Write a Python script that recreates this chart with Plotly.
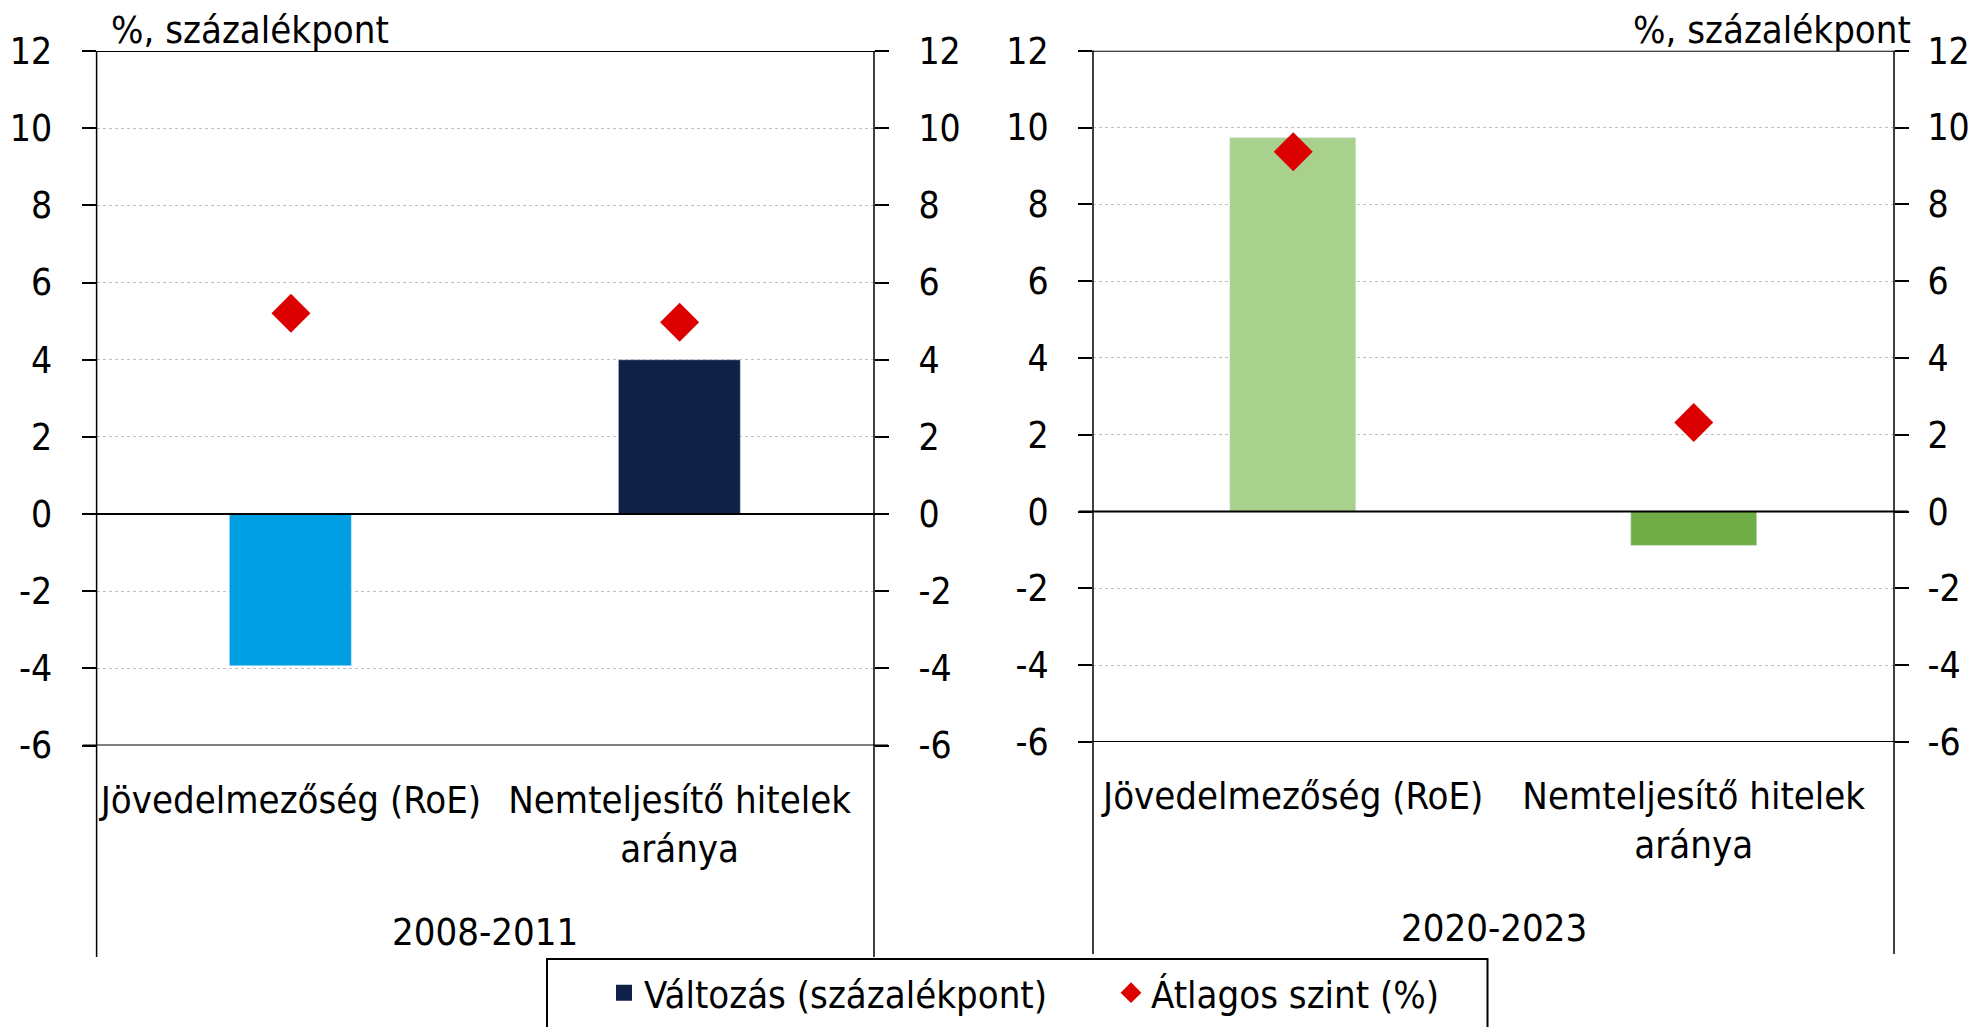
import plotly.graph_objects as go

W, H = 1977, 1027

# ---- data ----
categories = ["Jövedelmezőség (RoE)", "Nemteljesítő hitelek<br>aránya"]
periods = ["2008-2011", "2020-2023"]
change_2008 = [-3.93, 4.0]
level_2008 = [5.2, 4.97]
change_2020 = [9.73, -0.89]
level_2020 = [9.37, 2.32]
bar_colors_2008 = ["#009FE3", "#0F2147"]
bar_colors_2020 = ["#A9D18E", "#70AD47"]
y_ticks = [-6, -4, -2, 0, 2, 4, 6, 8, 10, 12]
y_ticktext = ["-6", "-4", "-2", "0", "2", "4", "6", "8", "10", "12"]
unit_label = "%, százalékpont"
legend_change = "Változás (százalékpont)"
legend_level = "Átlagos szint (%)"

FONT = "Liberation Sans Narrow, Arial Narrow, DejaVu Sans Condensed, sans-serif"
FS = 38
TFS = 37
RED = "#DD0000"
NAVY = "#0F2147"

# pixel geometry
L1, R1 = 96.6, 874.0
L2, R2 = 1093.0, 1894.0
T1, B1 = 51.0, 745.5
T2, B2 = 50.7, 742.0

def px(x):
    return x / W

def py(y):
    return 1 - y / H

fig = go.Figure()

fig.add_trace(go.Bar(x=categories, y=change_2008, marker_color=bar_colors_2008,
                     width=0.314, xaxis="x", yaxis="y", showlegend=False))
fig.add_trace(go.Scatter(x=categories, y=level_2008, mode="markers",
                         marker=dict(symbol="diamond", size=30, color=RED),
                         xaxis="x", yaxis="y2", showlegend=False))
fig.add_trace(go.Bar(x=categories, y=change_2020, marker_color=bar_colors_2020,
                     width=0.314, xaxis="x2", yaxis="y3", showlegend=False))
fig.add_trace(go.Scatter(x=categories, y=level_2020, mode="markers",
                         marker=dict(symbol="diamond", size=30, color=RED),
                         xaxis="x2", yaxis="y4", showlegend=False))
# legend entries
fig.add_trace(go.Scatter(x=[None], y=[None], mode="markers", name=legend_change,
                         marker=dict(symbol="square", size=23, color=NAVY),
                         xaxis="x", yaxis="y", showlegend=True))
fig.add_trace(go.Scatter(x=[None], y=[None], mode="markers", name=legend_level,
                         marker=dict(symbol="diamond", size=18, color=RED),
                         xaxis="x", yaxis="y", showlegend=True))

tickfont = dict(family=FONT, size=TFS, color="black")

def yax(domain, anchor, side, overlaying=None, grid=True, standoff=22):
    d = dict(domain=domain, anchor=anchor, side=side, range=[-6, 12],
             tickvals=y_ticks, ticktext=y_ticktext, ticks="outside", ticklen=14,
             tickwidth=2, tickcolor="black", tickfont=tickfont, showline=False,
             showticklabels=True,
             zeroline=False, showgrid=grid, gridcolor="#BFBFBF", griddash="dot",
             gridwidth=1, fixedrange=True, automargin=False,
             ticklabeloverflow="allow")
    if standoff:
        d["ticklabelstandoff"] = standoff
    if overlaying:
        d["overlaying"] = overlaying
    return d

def xax(domain, anchor):
    return dict(domain=domain, anchor=anchor, type="category",
                categoryorder="array", categoryarray=categories,
                showline=False, showgrid=False, zeroline=False, ticks="",
                tickfont=dict(family=FONT, size=FS, color="black"),
                ticklabelstandoff=28, fixedrange=True, automargin=False)

fig.update_layout(
    width=W, height=H,
    margin=dict(l=0, r=0, t=0, b=0, autoexpand=False),
    paper_bgcolor="white", plot_bgcolor="white",
    font=dict(family=FONT, size=FS, color="black"),
    xaxis=xax([px(L1), px(R1)], "y"),
    yaxis=yax([py(B1), py(T1)], "x", "left"),
    yaxis2=yax([py(B1), py(T1)], "x", "right", overlaying="y", grid=False),
    xaxis2=xax([px(L2), px(R2)], "y3"),
    yaxis3=yax([py(B2), py(T2)], "x2", "left"),
    yaxis4=yax([py(B2), py(T2)], "x2", "right", overlaying="y3", grid=False, standoff=11),
    showlegend=True,
    legend=dict(orientation="h", x=px(604), xanchor="left", y=py(993), yanchor="middle",
                bgcolor="rgba(0,0,0,0)", borderwidth=0, entrywidth=462,
                font=dict(family=FONT, size=FS, color="black"),
                itemclick=False, itemdoubleclick=False),
    bargap=0,
)

shapes = []
for (l, r, yref, bottom) in [(L1, R1, "y", 957), (L2, R2, "y3", 954)]:
    for yv in [12, 0, -6]:
        shapes.append(dict(type="line", xref="paper", yref=yref,
                           x0=px(l - 14), x1=px(r + 14), y0=yv, y1=yv,
                           line=dict(color="black", width=2), layer="above"))
    top = T1 if yref == "y" else T2
    for xv in [l, r]:
        shapes.append(dict(type="line", xref="paper", yref="paper",
                           x0=px(xv), x1=px(xv), y0=py(bottom), y1=py(top),
                           line=dict(color="black", width=1.5), layer="above"))
# legend frame
shapes.append(dict(type="rect", xref="paper", yref="paper",
                   x0=px(547), x1=px(1487.5), y0=-0.05, y1=py(959),
                   line=dict(color="black", width=2), fillcolor="rgba(0,0,0,0)"))
fig.update_layout(shapes=shapes)

annotations = [
    dict(text=periods[0], xref="x domain", x=0.5, yref="paper", y=py(932),
         showarrow=False, xanchor="center", yanchor="middle",
         font=dict(family=FONT, size=FS, color="black")),
    dict(text=periods[1], xref="x2 domain", x=0.5, yref="paper", y=py(928),
         showarrow=False, xanchor="center", yanchor="middle",
         font=dict(family=FONT, size=FS, color="black")),
    dict(text=unit_label, xref="paper", x=px(109), yref="paper", y=py(30),
         showarrow=False, xanchor="left", yanchor="middle",
         font=dict(family=FONT, size=FS, color="black")),
    dict(text=unit_label, xref="paper", x=px(1913), yref="paper", y=py(30),
         showarrow=False, xanchor="right", yanchor="middle",
         font=dict(family=FONT, size=FS, color="black")),
]
fig.update_layout(annotations=annotations)

fig.write_html("out.html", config={"displayModeBar": False},
               post_script="document.body.style.margin='0';document.body.style.overflow='hidden';")
